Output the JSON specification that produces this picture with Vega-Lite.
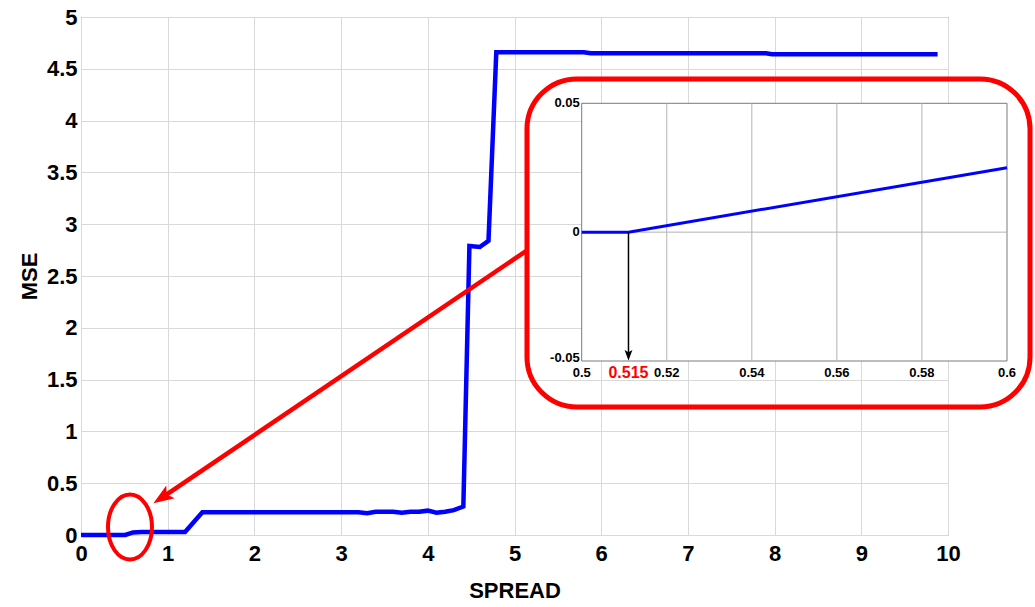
{
  "$schema": "https://vega.github.io/schema/vega-lite/v6.json",
  "width": 867,
  "height": 518,
  "autosize": {"type": "none"},
  "padding": {"left": 81, "top": 17, "right": 87, "bottom": 72},
  "background": "white",
  "config": {
    "view": {"stroke": "#8c8c8c", "strokeWidth": 1},
    "font": "Liberation Sans"
  },
  "datasets": {
    "main": [
      {"spread": 0, "mse": 0},
      {"spread": 0.45, "mse": 0},
      {"spread": 0.511, "mse": 0},
      {"spread": 0.6, "mse": 0.025},
      {"spread": 0.7, "mse": 0.03},
      {"spread": 1.2, "mse": 0.03},
      {"spread": 1.4, "mse": 0.22},
      {"spread": 2.0, "mse": 0.22},
      {"spread": 3.0, "mse": 0.22},
      {"spread": 3.2, "mse": 0.22},
      {"spread": 3.3, "mse": 0.21},
      {"spread": 3.4, "mse": 0.225},
      {"spread": 3.6, "mse": 0.225},
      {"spread": 3.7, "mse": 0.215},
      {"spread": 3.8, "mse": 0.225},
      {"spread": 3.9, "mse": 0.225},
      {"spread": 4.0, "mse": 0.235},
      {"spread": 4.1, "mse": 0.215},
      {"spread": 4.2, "mse": 0.225},
      {"spread": 4.3, "mse": 0.24},
      {"spread": 4.41, "mse": 0.275},
      {"spread": 4.48, "mse": 2.79},
      {"spread": 4.6, "mse": 2.78},
      {"spread": 4.7, "mse": 2.84},
      {"spread": 4.79, "mse": 4.66},
      {"spread": 5.8, "mse": 4.66},
      {"spread": 5.88, "mse": 4.65},
      {"spread": 7.9, "mse": 4.65},
      {"spread": 7.97, "mse": 4.64},
      {"spread": 9.88, "mse": 4.64}
    ],
    "inset": [
      {"x": 0.5, "y": 0},
      {"x": 0.511, "y": 0},
      {"x": 0.6, "y": 0.025}
    ],
    "insetFrame": [{"x": 0.5, "x2": 0.6, "y": -0.05, "y2": 0.05}],
    "insetVGrid": [
      {"x": 0.52, "y": -0.05, "y2": 0.05},
      {"x": 0.54, "y": -0.05, "y2": 0.05},
      {"x": 0.56, "y": -0.05, "y2": 0.05},
      {"x": 0.58, "y": -0.05, "y2": 0.05}
    ],
    "insetHGrid": [{"x": 0.5, "x2": 0.6, "y": 0}],
    "insetXLabels": [
      {"x": 0.5, "y": -0.05, "label": "0.5"},
      {"x": 0.52, "y": -0.05, "label": "0.52"},
      {"x": 0.54, "y": -0.05, "label": "0.54"},
      {"x": 0.56, "y": -0.05, "label": "0.56"},
      {"x": 0.58, "y": -0.05, "label": "0.58"},
      {"x": 0.6, "y": -0.05, "label": "0.6"}
    ],
    "insetYLabels": [
      {"x": 0.5, "y": 0.05, "label": "0.05", "pos": "top"},
      {"x": 0.5, "y": 0, "label": "0", "pos": "mid"},
      {"x": 0.5, "y": -0.05, "label": "-0.05", "pos": "bottom"}
    ]
  },
  "layer": [
    {
      "encoding": {
        "x": {
          "field": "spread",
          "type": "quantitative",
          "scale": {"domain": [0, 10], "nice": false, "zero": false},
          "axis": {
            "title": "SPREAD",
            "values": [0, 1, 2, 3, 4, 5, 6, 7, 8, 9, 10],
            "format": "d",
            "domain": false,
            "ticks": false,
            "grid": true,
            "gridColor": "#d9d9d9",
            "labelFont": "Liberation Sans",
            "labelFontSize": 22,
            "labelFontWeight": "bold",
            "labelColor": "#000000",
            "labelPadding": 8,
            "labelFlush": false,
            "labelOverlap": false,
            "titleFont": "Liberation Sans",
            "titleFontSize": 22,
            "titleFontWeight": "bold",
            "titleColor": "#000000",
            "titlePadding": 16
          }
        },
        "y": {
          "field": "mse",
          "type": "quantitative",
          "scale": {"domain": [0, 5], "nice": false, "zero": false},
          "axis": {
            "title": "MSE",
            "values": [0, 0.5, 1, 1.5, 2, 2.5, 3, 3.5, 4, 4.5, 5],
            "format": "~r",
            "domain": false,
            "ticks": false,
            "grid": true,
            "gridColor": "#d9d9d9",
            "labelFont": "Liberation Sans",
            "labelFontSize": 22,
            "labelFontWeight": "bold",
            "labelColor": "#000000",
            "labelPadding": 4,
            "labelFlush": false,
            "labelOverlap": false,
            "titleFont": "Liberation Sans",
            "titleFontSize": 22,
            "titleFontWeight": "bold",
            "titleColor": "#000000",
            "titlePadding": 5
          }
        }
      },
      "layer": [
        {
          "data": {"name": "main"},
          "mark": {"type": "line", "color": "#0000ff", "strokeWidth": 4.5, "clip": false}
        },
        {
          "data": {"values": [{"spread": 0.565, "mse": 0.077}]},
          "mark": {
            "type": "point",
            "shape": "M -0.677 0 A 0.677 1 0 1 0 0.677 0 A 0.677 1 0 1 0 -0.677 0 Z",
            "size": 4225,
            "filled": false,
            "stroke": "#ff0000",
            "strokeWidth": 4,
            "opacity": 1
          }
        },
        {
          "data": {"values": [{"spread": 5.133, "mse": 2.741, "spread2": 0.934, "mse2": 0.361}]},
          "mark": {"type": "rule", "color": "#ff0000", "strokeWidth": 4.5},
          "encoding": {
            "x2": {"field": "spread2"},
            "y2": {"field": "mse2"}
          }
        },
        {
          "data": {"values": [{"spread": 0.934, "mse": 0.361}]},
          "mark": {
            "type": "point",
            "shape": "M 0 -1 L 0.75 1 L 0 0.55 L -0.75 1 Z",
            "size": 420,
            "filled": true,
            "color": "#ff0000",
            "opacity": 1,
            "angle": 236.5
          }
        },
        {
          "data": {"values": [{"spread": 5.144, "mse": 4.402, "spread2": 10.946, "mse2": 1.236}]},
          "mark": {
            "type": "rect",
            "fill": "#ffffff",
            "fillOpacity": 0,
            "stroke": "#ff0000",
            "strokeWidth": 5,
            "cornerRadius": 50,
            "clip": false
          },
          "encoding": {
            "x2": {"field": "spread2"},
            "y2": {"field": "mse2"}
          }
        }
      ]
    },
    {
      "encoding": {
        "x": {
          "field": "x",
          "type": "quantitative",
          "scale": {"domain": [0.38227, 0.58613], "nice": false, "zero": false},
          "axis": null
        },
        "y": {
          "field": "y",
          "type": "quantitative",
          "scale": {"domain": [-0.11752, 0.08349], "nice": false, "zero": false},
          "axis": null
        }
      },
      "layer": [
        {
          "data": {"name": "insetFrame"},
          "mark": {"type": "rect", "fill": "#ffffff", "stroke": "#7a7a7a", "strokeWidth": 1},
          "encoding": {"x2": {"field": "x2"}, "y2": {"field": "y2"}}
        },
        {
          "data": {"name": "insetVGrid"},
          "mark": {"type": "rule", "color": "#b3b3b3", "strokeWidth": 1},
          "encoding": {"y2": {"field": "y2"}}
        },
        {
          "data": {"name": "insetHGrid"},
          "mark": {"type": "rule", "color": "#b3b3b3", "strokeWidth": 1},
          "encoding": {"x2": {"field": "x2"}}
        },
        {
          "data": {"name": "insetXLabels"},
          "mark": {"type": "text", "font": "Liberation Sans", "fontSize": 13, "fontWeight": "bold", "color": "#000000", "baseline": "middle", "align": "center", "dy": 12},
          "encoding": {"text": {"field": "label"}}
        },
        {
          "data": {"name": "insetYLabels"},
          "transform": [{"filter": "datum.pos !== 'bottom'"}],
          "mark": {"type": "text", "font": "Liberation Sans", "fontSize": 13, "fontWeight": "bold", "color": "#000000", "baseline": "middle", "align": "right", "dx": -2},
          "encoding": {"text": {"field": "label"}}
        },
        {
          "data": {"name": "insetYLabels"},
          "transform": [{"filter": "datum.pos === 'bottom'"}],
          "mark": {"type": "text", "font": "Liberation Sans", "fontSize": 13, "fontWeight": "bold", "color": "#000000", "baseline": "middle", "align": "right", "dx": -2, "dy": -3},
          "encoding": {"text": {"field": "label"}}
        },
        {
          "data": {"name": "inset"},
          "mark": {"type": "line", "color": "#0000ff", "strokeWidth": 3}
        },
        {
          "data": {"values": [{"x": 0.511, "y": 0, "y2": -0.0475}]},
          "mark": {"type": "rule", "color": "#000000", "strokeWidth": 1.5},
          "encoding": {"y2": {"field": "y2"}}
        },
        {
          "data": {"values": [{"x": 0.511, "y": -0.0478}]},
          "mark": {
            "type": "point",
            "shape": "M 0 -1 L 0.75 1 L 0 0.6 L -0.75 1 Z",
            "size": 110,
            "filled": true,
            "color": "#000000",
            "opacity": 1,
            "angle": 180
          }
        },
        {
          "data": {"values": [{"x": 0.511, "y": -0.05, "label": "0.515"}]},
          "mark": {"type": "text", "font": "Liberation Sans", "fontSize": 16, "fontWeight": "bold", "color": "#ff0000", "baseline": "middle", "align": "center", "dy": 12},
          "encoding": {"text": {"field": "label"}}
        }
      ]
    }
  ],
  "resolve": {"scale": {"x": "independent", "y": "independent"}}
}
